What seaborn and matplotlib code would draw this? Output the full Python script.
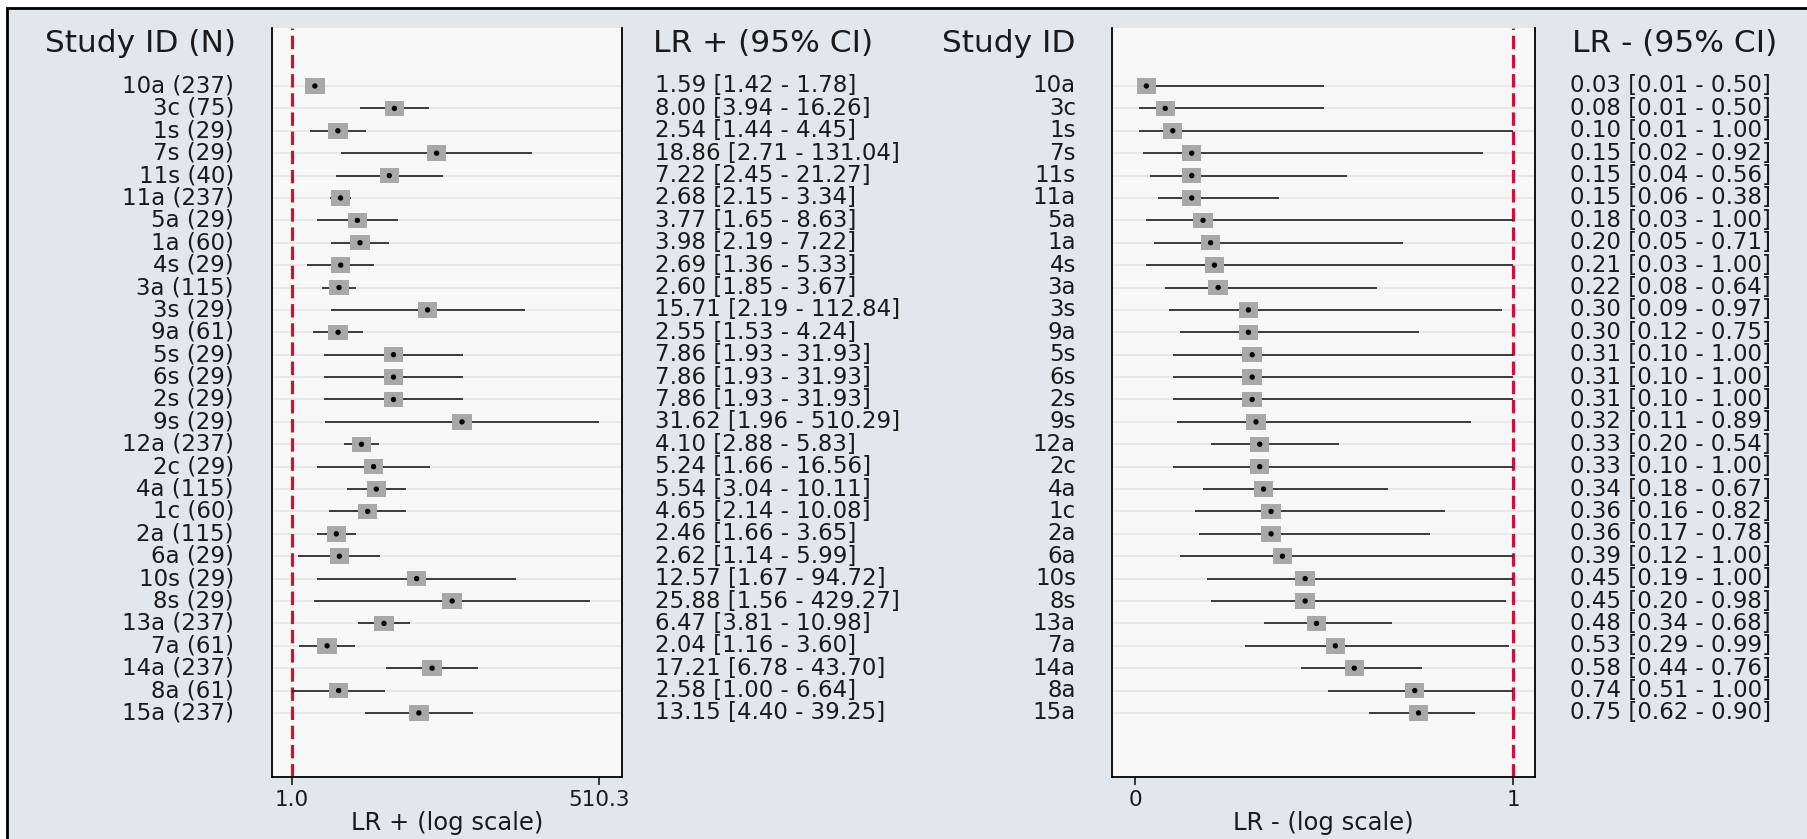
import numpy as np
import matplotlib
matplotlib.use("Agg")
import matplotlib.pyplot as plt
import seaborn as sns
from matplotlib.patches import Rectangle
from matplotlib.path import Path
from matplotlib.ticker import NullLocator
from matplotlib.transforms import blended_transform_factory

# ---- study data -------------------------------------------------------
study_ids = ["10a", "3c", "1s", "7s", "11s", "11a", "5a", "1a", "4s", "3a",
             "3s", "9a", "5s", "6s", "2s", "9s", "12a", "2c", "4a", "1c",
             "2a", "6a", "10s", "8s", "13a", "7a", "14a", "8a", "15a"]
sample_n = [237, 75, 29, 29, 40, 237, 29, 60, 29, 115,
            29, 61, 29, 29, 29, 29, 237, 29, 115, 60,
            115, 29, 29, 29, 237, 61, 237, 61, 237]

lr_pos = [1.59, 8.00, 2.54, 18.86, 7.22, 2.68, 3.77, 3.98, 2.69, 2.60,
          15.71, 2.55, 7.86, 7.86, 7.86, 31.62, 4.10, 5.24, 5.54, 4.65,
          2.46, 2.62, 12.57, 25.88, 6.47, 2.04, 17.21, 2.58, 13.15]
lr_pos_lo = [1.42, 3.94, 1.44, 2.71, 2.45, 2.15, 1.65, 2.19, 1.36, 1.85,
             2.19, 1.53, 1.93, 1.93, 1.93, 1.96, 2.88, 1.66, 3.04, 2.14,
             1.66, 1.14, 1.67, 1.56, 3.81, 1.16, 6.78, 1.00, 4.40]
lr_pos_hi = [1.78, 16.26, 4.45, 131.04, 21.27, 3.34, 8.63, 7.22, 5.33, 3.67,
             112.84, 4.24, 31.93, 31.93, 31.93, 510.29, 5.83, 16.56, 10.11, 10.08,
             3.65, 5.99, 94.72, 429.27, 10.98, 3.60, 43.70, 6.64, 39.25]

lr_neg = [0.03, 0.08, 0.10, 0.15, 0.15, 0.15, 0.18, 0.20, 0.21, 0.22,
          0.30, 0.30, 0.31, 0.31, 0.31, 0.32, 0.33, 0.33, 0.34, 0.36,
          0.36, 0.39, 0.45, 0.45, 0.48, 0.53, 0.58, 0.74, 0.75]
lr_neg_lo = [0.01, 0.01, 0.01, 0.02, 0.04, 0.06, 0.03, 0.05, 0.03, 0.08,
             0.09, 0.12, 0.10, 0.10, 0.10, 0.11, 0.20, 0.10, 0.18, 0.16,
             0.17, 0.12, 0.19, 0.20, 0.34, 0.29, 0.44, 0.51, 0.62]
lr_neg_hi = [0.50, 0.50, 1.00, 0.92, 0.56, 0.38, 1.00, 0.71, 1.00, 0.64,
             0.97, 0.75, 1.00, 1.00, 1.00, 0.89, 0.54, 1.00, 0.67, 0.82,
             0.78, 1.00, 1.00, 0.98, 0.68, 0.99, 0.76, 1.00, 0.90]

pos_ticks = [1.0, 510.3]
pos_ticklabels = ["1.0", "510.3"]
neg_ticks = [0, 1]
neg_ticklabels = ["0", "1"]

# ---- style ---------------------------------------------------------------
sns.set_theme(style="white")
plt.rcParams["font.family"] = ["DejaVu Sans"]
TXT = "#1a1a1a"
BODY = 16.5
TICK = 15.5
HEAD = 22.5

W, H = 1807, 839
fig = plt.figure(figsize=(W / 100, H / 100), dpi=100)
fig.patch.set_facecolor("white")

# graph region background with its black frame
fig.patches.append(Rectangle((7 / W, -0.1), 1.2, 1 - 8 / H + 0.1,
                             transform=fig.transFigure, facecolor="#e2e7eb",
                             edgecolor="black", lw=2, zorder=-10))

bottom = 1 - 777 / H
height = (777 - 28) / H
ax1 = fig.add_axes([272 / W, bottom, 350 / W, height])
ax2 = fig.add_axes([1112 / W, bottom, 423 / W, height])

rows = np.arange(len(study_ids))
ylim = (30.86, -2.59)

# slightly wide rectangle used for the study markers
box = Path([(-1.25, -1), (1.25, -1), (1.25, 1), (-1.25, 1), (-1.25, -1)],
           [Path.MOVETO, Path.LINETO, Path.LINETO, Path.LINETO, Path.CLOSEPOLY])


def draw_panel(ax, est, lo, hi, xlim, ticks, ticklabels, ref, xlabel, log):
    ax.set_facecolor("#f8f8f8")
    if log:
        ax.set_xscale("log")
    ax.set_xlim(*xlim)
    ax.set_ylim(*ylim)
    ax.hlines(rows, xlim[0], xlim[1], color="#e7e7e7", lw=1.3, zorder=1)
    ax.axvline(ref, color="#d0103a", lw=2.3, ls=(0, (4.2, 1.8)), zorder=2)
    ax.hlines(rows, lo, hi, color="#262626", lw=1.25, zorder=3)
    sns.scatterplot(x=est, y=rows, marker=box, s=195, color="#a8a8a8",
                    edgecolor="none", linewidth=0, ax=ax, zorder=4, legend=False)
    sns.scatterplot(x=est, y=rows, marker="o", s=15, color="black",
                    edgecolor="none", linewidth=0, ax=ax, zorder=5, legend=False)
    ax.set_xlim(*xlim)
    ax.set_ylim(*ylim)
    ax.set_xticks(ticks)
    ax.set_xticklabels(ticklabels)
    ax.xaxis.set_minor_locator(NullLocator())
    ax.set_yticks([])
    ax.set_ylabel("")
    ax.tick_params(axis="x", direction="out", length=6, width=1.2, pad=3,
                   labelsize=TICK, colors=TXT, bottom=True)
    ax.set_xlabel(xlabel, fontsize=17.5, color=TXT, labelpad=1)
    ax.spines["top"].set_visible(False)
    for side in ("left", "right", "bottom"):
        ax.spines[side].set_visible(True)
        ax.spines[side].set_color("black")
        ax.spines[side].set_linewidth(1.3)


draw_panel(ax1, lr_pos, lr_pos_lo, lr_pos_hi, (0.666, 815), pos_ticks,
           pos_ticklabels, 1.0, "LR + (log scale)", True)
draw_panel(ax2, lr_neg, lr_neg_lo, lr_neg_hi, (-0.0608, 1.058), neg_ticks,
           neg_ticklabels, 1.0, "LR - (log scale)", False)

# ---- text columns ---------------------------------------------------------
tr = blended_transform_factory(fig.transFigure, ax1.transData)
head_y = -1.88

fig.text(236 / W, head_y, "Study ID (N)", transform=tr, ha="right",
         va="center", fontsize=HEAD, color=TXT)
fig.text(653 / W, head_y, "LR + (95% CI)", transform=tr, ha="left",
         va="center", fontsize=HEAD, color=TXT)
fig.text(1076 / W, head_y, "Study ID", transform=tr, ha="right",
         va="center", fontsize=HEAD, color=TXT)
fig.text(1572 / W, head_y, "LR - (95% CI)", transform=tr, ha="left",
         va="center", fontsize=HEAD, color=TXT)

for i, sid in enumerate(study_ids):
    fig.text(234 / W, i, f"{sid} ({sample_n[i]})", transform=tr, ha="right",
             va="center", fontsize=BODY, color=TXT)
    fig.text(655 / W, i,
             f"{lr_pos[i]:.2f} [{lr_pos_lo[i]:.2f} - {lr_pos_hi[i]:.2f}]",
             transform=tr, ha="left", va="center", fontsize=BODY, color=TXT)
    fig.text(1076 / W, i, sid, transform=tr, ha="right", va="center",
             fontsize=BODY, color=TXT)
    fig.text(1570 / W, i,
             f"{lr_neg[i]:.2f} [{lr_neg_lo[i]:.2f} - {lr_neg_hi[i]:.2f}]",
             transform=tr, ha="left", va="center", fontsize=BODY, color=TXT)

fig.savefig("out.png", dpi=100, facecolor=fig.get_facecolor())
